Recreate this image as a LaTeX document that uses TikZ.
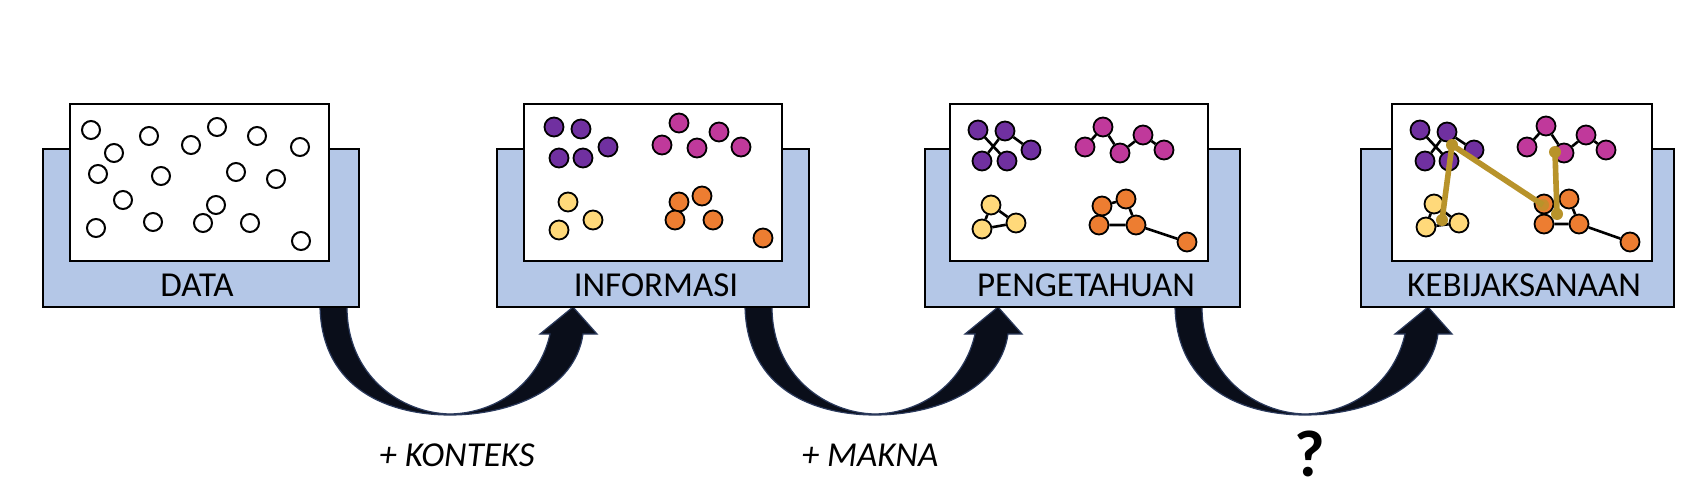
\documentclass[tikz,border=0pt]{standalone}
\usepackage{fontspec}
\setmainfont{Carlito}
\definecolor{boxblue}{HTML}{B4C7E7}
\definecolor{dpurple}{HTML}{7030A0}
\definecolor{dmagenta}{HTML}{C0399B}
\definecolor{dyellow}{HTML}{FFD97A}
\definecolor{dorange}{HTML}{ED7D31}
\definecolor{goldline}{HTML}{B8932A}
\definecolor{arrowfill}{HTML}{0A0E1A}
\definecolor{arrowedge}{HTML}{2B3A5C}
\newcommand\myFatArrow[1]{%
\begin{scope}[shift={(#1,0)}]
\fill[arrowfill, draw=arrowedge, line width=0.6pt] (320,307) .. controls (322,390) and (390,415) .. (450,415) .. controls (510,415) and (575,390) .. (583,334) -- (597,334) -- (573,307) -- (540,334) -- (550,334) .. controls (540,380) and (500,413) .. (450,414) .. controls (400,413) and (347,375) .. (347,307) -- cycle;
\end{scope}}
\begin{document}
\begin{tikzpicture}[x=0.5pt,y=-0.5pt,
  bluebox/.style={draw=black, line width=1pt, fill=boxblue},
  whitebox/.style={draw=black, line width=1pt, fill=white},
  lbl/.style={font=\fontsize{17.5}{20}\selectfont, text=black, inner sep=0pt},
  wdot/.style={circle, draw=black, line width=1pt, fill=white, minimum size=9pt, inner sep=0pt},
  cdot/.style={circle, draw=black, line width=0.9pt, fill=#1, minimum size=9.5pt, inner sep=0pt},
  link/.style={draw=black, line width=1.3pt},
  gdot/.style={circle, fill=goldline, minimum size=6pt, inner sep=0pt},
  glink/.style={draw=goldline, line width=2.8pt}]
\useasboundingbox (0,0) rectangle (1702,492);
\fill[white] (0,0) rectangle (1702,492);

% arrows
\myFatArrow{0}
\myFatArrow{425}
\myFatArrow{855}

% panels
\draw[bluebox] (43,149) rectangle (359,307);
\draw[whitebox] (70,104) rectangle (329,261);
\draw[bluebox] (497,149) rectangle (809,307);
\draw[whitebox] (524,104) rectangle (782,261);
\draw[bluebox] (925,149) rectangle (1240,307);
\draw[whitebox] (950,104) rectangle (1208,261);
\draw[bluebox] (1361,149) rectangle (1674,307);
\draw[whitebox] (1392,104) rectangle (1652,261);

\node[lbl] (l1) at (197,285) {DATA};
\node[lbl] (l2) at (656,285) {INFORMASI};
\node[lbl] (l3) at (1086,285) {PENGETAHUAN};
\node[lbl] (l4) at (1524,285) {KEBIJAKSANAAN};

% panel 1
\foreach \x/\y [count=\i] in {91/130,149/136,191/145,217/127,257/136,300/147,114/153,98/174,161/176,236/172,276/179,123/200,216/205,96/228,153/222,203/223,250/223,301/241}
  \node[wdot] (w\i) at (\x,\y) {};

% panel 2
\foreach \x/\y [count=\i] in {554/127,581/129,608/147,559/158,583/158}
  \node[cdot=dpurple] (bp\i) at (\x,\y) {};
\foreach \x/\y [count=\i] in {679/123,662/145,697/148,719/132,741/147}
  \node[cdot=dmagenta] (bm\i) at (\x,\y) {};
\foreach \x/\y [count=\i] in {568/202,593/220,559/230}
  \node[cdot=dyellow] (by\i) at (\x,\y) {};
\foreach \x/\y [count=\i] in {702/196,679/202,675/220,713/220,763/238}
  \node[cdot=dorange] (bo\i) at (\x,\y) {};

% panel 3
\foreach \x/\y [count=\i] in {978/130,1005/131,1031/150,982/161,1007/161}
  \node[cdot=dpurple] (cp\i) at (\x,\y) {};
\foreach \x/\y [count=\i] in {1085/147,1103/127,1120/153,1143/135,1164/150}
  \node[cdot=dmagenta] (cm\i) at (\x,\y) {};
\foreach \x/\y [count=\i] in {991/205,1016/223,982/229}
  \node[cdot=dyellow] (cy\i) at (\x,\y) {};
\foreach \x/\y [count=\i] in {1102/206,1126/199,1099/225,1136/225,1187/242}
  \node[cdot=dorange] (co\i) at (\x,\y) {};
\draw[link] (cp1) -- (cp5) (cp2) -- (cp4) (cp2) -- (cp3);
\draw[link] (cm1) -- (cm2) -- (cm3) -- (cm4) -- (cm5);
\draw[link] (cy1) -- (cy2) -- (cy3) -- (cy1);
\draw[link] (co1) -- (co2) -- (co4) -- (co3) -- (co1) (co4) -- (co5);

% panel 4
\foreach \x/\y [count=\i] in {1420/130,1447/132,1474/150,1425/161,1449/161}
  \node[cdot=dpurple] (dp\i) at (\x,\y) {};
\foreach \x/\y [count=\i] in {1527/147,1546/126,1564/153,1586/135,1606/150}
  \node[cdot=dmagenta] (dm\i) at (\x,\y) {};
\foreach \x/\y [count=\i] in {1434/204,1459/223,1426/227}
  \node[cdot=dyellow] (dy\i) at (\x,\y) {};
\foreach \x/\y [count=\i] in {1544/204,1569/199,1544/224,1579/224,1630/242}
  \node[cdot=dorange] (do\i) at (\x,\y) {};
\draw[link] (dp1) -- (dp5) (dp2) -- (dp4) (dp2) -- (dp3);
\draw[link] (dm1) -- (dm2) -- (dm3) -- (dm4) -- (dm5);
\draw[link] (dy1) -- (dy2) -- (dy3) -- (dy1);
\draw[link] (do1) -- (do2) -- (do4) -- (do3) -- (do1) (do4) -- (do5);

% gold links
\node[gdot] (g1) at (1452,145) {};
\node[gdot] (g2) at (1442,220) {};
\node[gdot, fill opacity=0.7] (g3) at (1543,205) {};
\node[gdot] (g4) at (1555,152) {};
\node[gdot] (g5) at (1557,214) {};
\draw[glink] (g2.center) -- (g1.center) -- (g3.center);
\draw[glink] (g4.center) -- (g5.center);

% labels below
\node[lbl, font=\fontsize{17.5}{20}\selectfont\itshape] (k1) at (457,455) {+ KONTEKS};
\node[lbl, font=\fontsize{17.5}{20}\selectfont\itshape] (k2) at (870,455) {+ MAKNA};
\node[lbl, font=\fontsize{33}{36}\selectfont\bfseries] (k3) at (1310,454) {?};
\end{tikzpicture}
\end{document}
